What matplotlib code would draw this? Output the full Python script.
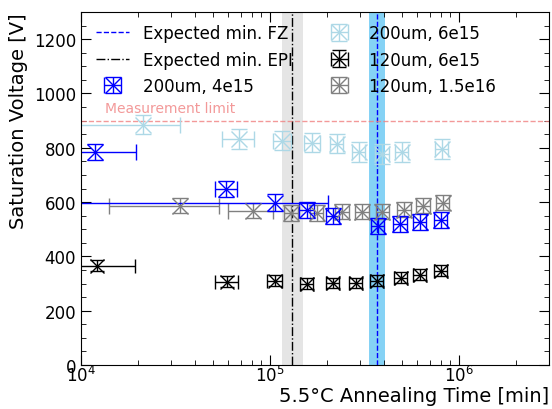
import matplotlib.pyplot as plt
import numpy as np
from matplotlib.ticker import MultipleLocator

# 200um, 4e15
t_b = [1.19e4, 5.85e4, 1.06e5, 1.57e5, 2.15e5, 3.72e5, 4.88e5, 6.22e5, 8.03e5]
v_b = [785, 649, 598, 570, 549, 513, 520, 527, 535]
lo_b = [5e3, 5.15e4, 5e3, 1.43e5, 1.98e5, 3.43e5, 4.5e5, 5.73e5, 7.4e5]
hi_b = [1.95e4, 6.7e4, 2.03e5, 1.72e5, 2.33e5, 4.03e5, 5.28e5, 6.73e5, 8.7e5]
ye_b = 30

# 200um, 6e15
t_lb = [2.13e4, 6.86e4, 1.16e5, 1.67e5, 2.26e5, 2.96e5, 3.92e5, 4.99e5, 8.13e5]
v_lb = [885, 833, 826, 819, 815, 785, 778, 785, 796]
lo_lb = [9e3, 5.57e4, 1.04e5, 1.52e5, 2.07e5, 2.72e5, 3.6e5, 4.58e5, 7.45e5]
hi_lb = [3.34e4, 8.22e4, 1.3e5, 1.83e5, 2.45e5, 3.2e5, 4.25e5, 5.4e5, 8.8e5]
ye_lb = 36

# 120um, 6e15
t_k = [1.22e4, 5.92e4, 1.06e5, 1.57e5, 2.15e5, 2.85e5, 3.68e5, 4.93e5, 6.22e5, 8.03e5]
v_k = [365, 306, 310, 299, 302, 302, 310, 321, 332, 347]
lo_k = [5e3, 5.1e4, 9.7e4, 1.45e5, 1.98e5, 2.63e5, 3.4e5, 4.55e5, 5.75e5, 7.42e5]
hi_k = [1.93e4, 6.8e4, 1.16e5, 1.7e5, 2.33e5, 3.08e5, 3.98e5, 5.33e5, 6.72e5, 8.7e5]
ye_k = 20

# 120um, 1.5e16
t_g = [3.34e4, 8.13e4, 1.29e5, 1.77e5, 2.41e5, 3.07e5, 3.92e5, 5.12e5, 6.46e5, 8.22e5]
v_g = [586, 568, 560, 560, 564, 564, 564, 572, 586, 597]
lo_g = [1.41e4, 6.0e4, 1.19e5, 1.63e5, 2.22e5, 2.83e5, 3.62e5, 4.72e5, 5.95e5, 7.57e5]
hi_g = [5.37e4, 1.04e5, 1.4e5, 1.92e5, 2.62e5, 3.33e5, 4.25e5, 5.55e5, 7.0e5, 8.9e5]
ye_g = 28

fz_min, fz_lo, fz_hi = 3.68e5, 3.34e5, 4.06e5
epi_min, epi_lo, epi_hi = 1.306e5, 1.157e5, 1.496e5
limit = 900

fig = plt.figure(figsize=(5.52, 4.10), dpi=100)
ax = fig.add_axes([0.1467, 0.1073, 0.848, 0.861])

ax.axvspan(epi_lo, epi_hi, color='#e5e5e5', lw=0)
ax.axvspan(fz_lo, fz_hi, color='#85d2f5', lw=0)
l_fz = ax.axvline(fz_min, color='blue', ls='--', lw=1, label='Expected min. FZ')
l_epi = ax.axvline(epi_min, color='black', ls='-.', lw=1, label='Expected min. EPI')
ax.axhline(limit, color='lightcoral', ls='--', lw=1, alpha=0.8)
ax.text(1.34e4, 932, 'Measurement limit', color='lightcoral', alpha=0.8, size=10)


def series(t, v, lo, hi, ye, color, label, ms, cs):
    t = np.array(t)
    xerr = [t - np.array(lo), np.array(hi) - t]
    return ax.errorbar(t, v, yerr=ye, xerr=xerr, fmt='x', color=color, ms=ms,
                       capsize=cs, elinewidth=1, mew=1, label=label)


h_lb = series(t_lb, v_lb, lo_lb, hi_lb, ye_lb, 'lightblue', '200um, 6e15', 12, 6)
h_g = series(t_g, v_g, lo_g, hi_g, ye_g, 'gray', '120um, 1.5e16', 11, 6)
h_k = series(t_k, v_k, lo_k, hi_k, ye_k, 'black', '120um, 6e15', 10, 5)
h_b = series(t_b, v_b, lo_b, hi_b, ye_b, 'blue', '200um, 4e15', 12, 6)

ax.set_xscale('log')
ax.set_xlim(1e4, 3e6)
ax.set_ylim(0, 1300)
ax.yaxis.set_major_locator(MultipleLocator(200))
ax.yaxis.set_minor_locator(MultipleLocator(50))
ax.tick_params(which='both', direction='in', top=True, right=True, labelsize=12)
ax.tick_params(which='major', length=7)
ax.tick_params(which='minor', length=3.5)
ax.tick_params(axis='x', which='both', pad=0)
ax.set_xlabel('5.5°C Annealing Time [min]', size=14, loc='right', labelpad=1)
ax.set_ylabel('Saturation Voltage [V]', size=14, loc='top')

ax.legend([l_fz, l_epi, h_b, h_lb, h_k, h_g],
          ['Expected min. FZ', 'Expected min. EPI', '200um, 4e15',
           '200um, 6e15', '120um, 6e15', '120um, 1.5e16'],
          loc='upper left', bbox_to_anchor=(0, 1.008), ncol=2, frameon=False,
          fontsize=12, columnspacing=1.8)

fig.savefig('out.png', dpi=100)
